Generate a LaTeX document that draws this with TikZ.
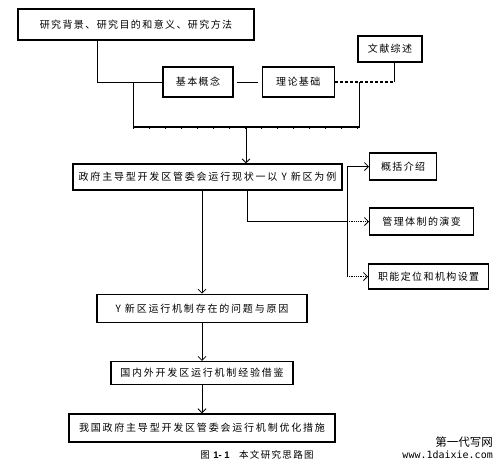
\documentclass[tikz,border=0pt]{standalone}
\usepackage{fontspec}
\setmainfont{Liberation Serif}
\newfontfamily\cjk[LetterSpace=14]{Noto Sans CJK SC}
\newfontfamily\cjkwide[LetterSpace=18]{Noto Sans CJK SC}
\newfontfamily\cjkplain{Noto Sans CJK SC}
\newfontfamily\capnum{Liberation Sans}
\newfontfamily\sitefont{DejaVu Sans Mono}
\usetikzlibrary{positioning,arrows.meta}

\begin{document}
\begin{tikzpicture}[x=1pt, y=-1pt, node distance=28pt,
    every node/.style={font=\fontsize{10}{12}\selectfont\cjk},
    stagebox/.style={rectangle, draw=black, line width=1.3pt, inner sep=0pt, minimum height=27pt},
    widebox/.style={stagebox, font=\fontsize{10}{12}\selectfont\cjkwide},
    link/.style={line width=0.8pt},
    flow/.style={link, -{Straight Barb[length=4pt,width=8pt,line width=0.8pt]}},
    hatch/.style={flow, densely dotted, line width=1.3pt}]
    \useasboundingbox (0,0) rectangle (504,469);
    \node[stagebox, minimum width=236pt, minimum height=31pt] (background) at (136,24.5) {研究背景、研究目的和意义、研究方法};
    \node[stagebox, minimum width=70pt, minimum height=30pt] (concept) at (198,82) {基本概念};
    \node[stagebox, minimum width=72pt, minimum height=30pt, right=28pt of concept] (theory) {理论基础};
    \node[stagebox, minimum width=64pt, minimum height=26pt] (review) at (390,49) {文献综述};
    \node[widebox, minimum width=269pt, minimum height=26pt] (status) at (207.5,177) {政府主导型开发区管委会运行现状一以 Y 新区为例};
    \node[stagebox, minimum width=67pt, anchor=west] (intro) at (369,166.5) {概括介绍};
    \node[stagebox, minimum width=104pt, anchor=west] (evolution) at (369,221.5) {管理体制的演变};
    \node[stagebox, minimum width=120pt, minimum height=25pt, anchor=west] (function) at (368,276.5) {职能定位和机构设置};
    \node[widebox, minimum width=210pt, minimum height=28pt, below=103pt of status, xshift=-5.5pt] (problem) {Y 新区运行机制存在的问题与原因};
    \node[widebox, minimum width=182pt, minimum height=23pt, below=38pt of problem] (experience) {国内外开发区运行机制经验借鉴};
    \node[widebox, minimum width=266pt, minimum height=28pt, below=28pt of experience] (measure) {我国政府主导型开发区管委会运行机制优化措施};
    \node[font=\fontsize{9.5}{11}\selectfont\cjk] (caption) at (257,455) {图 {\capnum\bfseries 1- 1}\quad 本文研究思路图};
    \node[anchor=east, inner sep=0pt, font=\fontsize{11.5}{13}\selectfont\cjkplain] (mark) at (493,442) {第一代写网};
    \node[anchor=east, inner sep=0pt, font=\fontsize{10}{12}\selectfont\sitefont] (site) at (493,455) {www.1daixie.com};
    \coordinate (leftjoin) at (133,82);
    \coordinate (reviewfoot) at ([xshift=4pt]review.south |- theory.east);
    \coordinate (rightjoin) at (359,82);
    \coordinate (merge) at (246,127);
    \coordinate (split) at (347,221.5);
    \draw[link] ([xshift=-39pt]background.south) |- (concept.west);
    \draw[link, shorten <=3pt, shorten >=4pt] (concept) -- (theory);
    \draw[link, line width=1.4pt, densely dashed] (theory.east) -- (reviewfoot);
    \draw[link] (reviewfoot) -- (review.south -| reviewfoot);
    \draw[link] (leftjoin) |- (merge) -| (rightjoin);
    \draw[line width=1.4pt] (leftjoin |- merge) -- (rightjoin |- merge);
    \draw[line width=0.8pt, dash pattern=on 0.8pt off 15.2pt] ([yshift=-1.6pt]leftjoin |- merge) -- ([yshift=-1.6pt]rightjoin |- merge);
    \draw[flow] (merge) -- (merge |- status.north);
    \draw[flow] (problem.north |- status.south) -- (problem.north);
    \draw[link] ([xshift=39.5pt]status.south) |- (split);
    \draw[flow] (split) |- (intro.west);
    \draw[hatch] (split) -- (evolution.west);
    \draw[link] (split) -- (split |- function.west);
    \draw[hatch] (split |- function.west) -- (function.west);
    \draw[flow] (problem) -- (experience);
    \draw[flow] (experience) -- (measure);
\end{tikzpicture}
\end{document}
